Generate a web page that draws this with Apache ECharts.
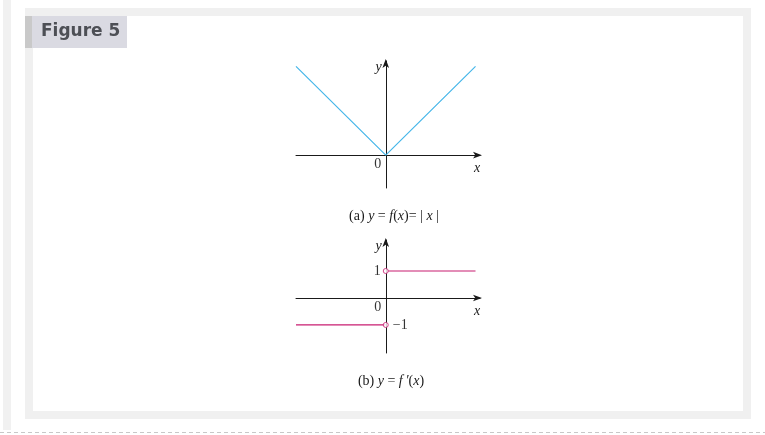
<!DOCTYPE html>
<html>
<head>
<meta charset="utf-8">
<script src="https://cdn.jsdelivr.net/npm/echarts@6/dist/echarts.min.js"></script>
<style>
html,body{margin:0;padding:0;background:#fff;}
#chart{width:765px;height:435px;}
</style>
</head>
<body>
<div id="chart"></div>
<script>
// ---- data ----
var absX = [-1, 0, 1];
var absY = [1, 0, 1];
var derivPosX = [0, 1];
var derivPosY = [1, 1];
var derivNegX = [-1, 0];
var derivNegY = [-1, -1];
var holeX = [0, 0];
var holeY = [1, -1];
var figureTitle = 'Figure 5';
var captionA = '(a) {i|y} = {i|f}({i|x})= |{i| x }|';
var captionB = "(b) {i|y} = {i|f\u2009\u2032}({i|x})";

function pairs(xs, ys) { return xs.map(function (x, i) { return [x, ys[i]]; }); }

var serif = '"Liberation Serif", "DejaVu Serif", serif';
var blue = '#45b6e9';
var magenta = '#c81c70';
var axisCol = '#1a1a1a';

var chart = echarts.init(document.getElementById('chart'), null, {renderer: 'canvas'});

function xAxisDef(gi) {
  return {
    gridIndex: gi, type: 'value', min: -1, max: 1.05,
    axisLine: {show: true, onZero: true, symbol: ['none', 'arrow'], symbolSize: [5, 9], symbolOffset: [0, 2],
      lineStyle: {color: axisCol, width: 1}},
    axisTick: {show: false}, axisLabel: {show: false}, splitLine: {show: false},
    name: 'x', nameLocation: 'end', nameGap: -6,
    nameTextStyle: {fontFamily: serif, fontStyle: 'italic', fontSize: 14, color: axisCol,
      verticalAlign: 'top', align: 'left', padding: [6, 0, 0, 0]}
  };
}
function yAxisDef(gi, mn, mx) {
  return {
    gridIndex: gi, type: 'value', min: mn, max: mx,
    axisLine: {show: true, onZero: true, symbol: ['none', 'arrow'], symbolSize: [5, 9], symbolOffset: [0, 2],
      lineStyle: {color: axisCol, width: 1}},
    axisTick: {show: false}, axisLabel: {show: false}, splitLine: {show: false},
    name: 'y', nameLocation: 'end', nameGap: 1,
    nameTextStyle: {fontFamily: serif, fontStyle: 'italic', fontSize: 14, color: axisCol,
      verticalAlign: 'top', align: 'right', padding: [0, 4, 0, 0]}
  };
}

var labelBase = {fontFamily: serif, fontSize: 14, color: '#000'};
var capStyle = {fontFamily: serif, fontSize: 14, fontWeight: 'normal', color: axisCol,
  rich: {i: {fontFamily: serif, fontSize: 14, fontStyle: 'italic', color: axisCol}}};
var hiddenItem = {color: 'rgba(0,0,0,0)', borderWidth: 0};

chart.setOption({
  animation: false,
  backgroundColor: '#fff',
  graphic: [
    {type: 'rect', shape: {x: 3, y: 0, width: 8, height: 430}, style: {fill: '#f1f1f1'}, z: -10},
    {type: 'rect', shape: {x: 25, y: 8, width: 726, height: 411}, style: {fill: '#f0f0f0'}, z: -10},
    {type: 'rect', shape: {x: 33, y: 16, width: 710, height: 395}, style: {fill: '#ffffff'}, z: -9},
    {type: 'line', shape: {x1: 0, y1: 432.5, x2: 765, y2: 432.5}, style: {stroke: '#c8c8c8', lineWidth: 1, lineDash: [4, 3]}, z: -10},
    {type: 'rect', shape: {x: 25, y: 16, width: 102, height: 32}, style: {fill: '#dadae2'}, z: -8},
    {type: 'rect', shape: {x: 25, y: 16, width: 7, height: 32}, style: {fill: '#c9c9c9'}, z: -7},
    {type: 'text', x: 41, y: 32, style: {text: figureTitle, fill: '#4d4f55', font: 'bold 17px "DejaVu Sans", sans-serif', verticalAlign: 'middle'}, z: -6}
  ],
  title: [
    {text: captionA, left: 389, top: 204, textAlign: 'center', textStyle: capStyle},
    {text: captionB, left: 386, top: 369, textAlign: 'center', textStyle: capStyle}
  ],
  grid: [
    {left: 296, top: 61, width: 184, height: 127},
    {left: 296, top: 240, width: 184, height: 113}
  ],
  xAxis: [xAxisDef(0), xAxisDef(1)],
  yAxis: [yAxisDef(0, -0.37, 1.06), yAxisDef(1, -2.04, 2.15)],
  series: [
    {type: 'line', xAxisIndex: 0, yAxisIndex: 0, data: pairs(absX, absY), symbol: 'none',
      lineStyle: {color: blue, width: 1.2}, z: 3},
    {type: 'scatter', xAxisIndex: 0, yAxisIndex: 0, symbolSize: 2, itemStyle: hiddenItem,
      data: [{value: [0, 0], label: {show: true, formatter: '0', position: 'bottom', distance: 1, offset: [-8, 0]}}],
      label: labelBase, silent: true, z: 6},
    {type: 'line', xAxisIndex: 1, yAxisIndex: 1, data: pairs(derivPosX, derivPosY), symbol: 'none',
      lineStyle: {color: magenta, width: 1.2}, z: 3},
    {type: 'line', xAxisIndex: 1, yAxisIndex: 1, data: pairs(derivNegX, derivNegY), symbol: 'none',
      lineStyle: {color: magenta, width: 1.2}, z: 3},
    {type: 'scatter', xAxisIndex: 1, yAxisIndex: 1, data: pairs(holeX, holeY), symbol: 'circle', symbolSize: 5,
      itemStyle: {color: '#fff', borderColor: magenta, borderWidth: 1}, z: 5},
    {type: 'scatter', xAxisIndex: 1, yAxisIndex: 1, symbolSize: 2, itemStyle: hiddenItem, silent: true,
      label: labelBase, z: 6,
      data: [
        {value: [0, 0], label: {show: true, formatter: '0', position: 'bottom', distance: 1, offset: [-8, 0]}},
        {value: [0, 1], label: {show: true, formatter: '1', position: 'left', distance: 4}},
        {value: [0, -1], label: {show: true, formatter: '\u22121', position: 'right', distance: 6}}
      ]}
  ]
});
</script>
</body>
</html>
